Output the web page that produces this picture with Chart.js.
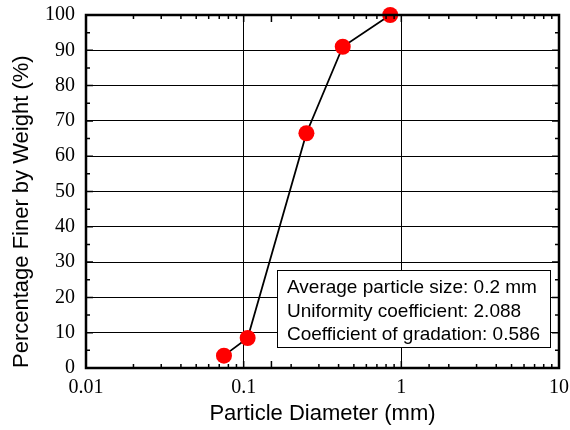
<!DOCTYPE html>
<html><head><meta charset="utf-8">
<script src="https://cdn.jsdelivr.net/npm/chart.js@4/dist/chart.umd.min.js"></script>
<style>html,body{margin:0;padding:0;background:#fff}#wrap{width:570px;height:430px}</style>
</head><body><div id="wrap"><canvas id="c" width="570" height="430"></canvas></div>
<script>
const diameters = [0.075, 0.106, 0.25, 0.425, 0.85];
const percentFiner = [3.5, 8.5, 66.5, 91.0, 100];
const xTickLabels = [0.01, 0.1, 1, 10];
const yTickStep = 10;
const noteLines = ["Average particle size: 0.2 mm", "Uniformity coefficient: 2.088", "Coefficient of gradation: 0.586"];
const xTitle = "Particle Diameter (mm)";
const yTitle = "Percentage Finer by Weight (%)";

const serif = "'Liberation Serif', 'Times New Roman', serif";
const sans = "'Liberation Sans', Arial, sans-serif";

const framePlugin = {
  id: 'frame',
  afterDraw(chart) {
    const {ctx, chartArea: a, scales} = chart;
    ctx.save();
    ctx.strokeStyle = '#000';
    ctx.lineWidth = 1.5;
    scales.x.ticks.forEach(t => {
      const v = t.value;
      const exp = Math.floor(Math.log10(v) + 1e-9);
      const sig = Math.round(v / Math.pow(10, exp));
      const px = scales.x.getPixelForValue(v);
      if (px < a.left + 1 || px > a.right - 1) return;
      const len = sig === 1 ? 7 : 4;
      ctx.beginPath();
      ctx.moveTo(px, a.bottom); ctx.lineTo(px, a.bottom - len);
      ctx.moveTo(px, a.top); ctx.lineTo(px, a.top + len);
      ctx.stroke();
    });
    for (let v = 5; v < 100; v += 5) {
      const py = scales.y.getPixelForValue(v);
      const len = v % 10 === 0 ? 7 : 4;
      ctx.beginPath();
      ctx.moveTo(a.left, py); ctx.lineTo(a.left + len, py);
      ctx.moveTo(a.right, py); ctx.lineTo(a.right - len, py);
      ctx.stroke();
    }
    ctx.lineWidth = 2.5;
    ctx.strokeRect(a.left, a.top, a.right - a.left, a.bottom - a.top);
    const bw = 273, bh = 77;
    const bx = a.right - 9 - bw, by = a.bottom - 21 - bh;
    ctx.fillStyle = '#fff';
    ctx.fillRect(bx, by, bw, bh);
    ctx.lineWidth = 1;
    ctx.strokeRect(bx + 0.5, by + 0.5, bw, bh);
    ctx.fillStyle = '#000';
    ctx.font = "19px " + sans;
    ctx.textBaseline = 'middle';
    noteLines.forEach((s, i) => ctx.fillText(s, bx + 10, by + 18 + i * 23.5));
    ctx.restore();
  }
};

new Chart(document.getElementById('c'), {
  type: 'scatter',
  data: {
    datasets: [{
      data: diameters.map((d, i) => ({x: d, y: percentFiner[i]})),
      showLine: true,
      borderColor: '#000',
      borderWidth: 1.8,
      pointRadius: 8,
      pointHoverRadius: 8,
      pointBackgroundColor: '#ff0000',
      pointBorderColor: '#ff0000',
      pointBorderWidth: 0,
      clip: false
    }]
  },
  options: {
    responsive: false,
    animation: false,
    events: [],
    layout: {padding: {left: 0, right: 11, top: 15, bottom: 0}},
    plugins: {legend: {display: false}, tooltip: {enabled: false}},
    scales: {
      x: {
        type: 'logarithmic', min: 0.01, max: 10,
        afterFit(s) { s.height = 62; s.paddingLeft = 0; s.paddingRight = 0; },
        grid: {
          drawTicks: false,
          color: ctx => {
            const v = ctx.tick && ctx.tick.value;
            if (v === undefined) return 'rgba(0,0,0,0)';
            const l = Math.log10(v);
            return Math.abs(l - Math.round(l)) < 1e-6 ? '#000' : 'rgba(0,0,0,0)';
          },
          lineWidth: 1
        },
        border: {display: false},
        ticks: {
          autoSkip: false, maxRotation: 0, padding: 8, color: '#000',
          font: {family: serif, size: 20},
          callback: v => xTickLabels.some(t => Math.abs(t - v) < 1e-9) ? String(v) : ''
        },
        title: {display: true, text: xTitle, color: '#000', font: {family: sans, size: 22}, padding: {top: 0, bottom: 3}}
      },
      y: {
        min: 0, max: 100,
        afterFit(s) { s.width = 86; s.paddingTop = 0; s.paddingBottom = 0; },
        grid: {drawTicks: false, color: '#000', lineWidth: 1},
        border: {display: false},
        ticks: {stepSize: yTickStep, padding: 11, color: '#000', font: {family: serif, size: 20}},
        title: {display: true, align: 'start', text: yTitle, color: '#000', font: {family: sans, size: 22}, padding: {top: 9, bottom: 0}}
      }
    }
  },
  plugins: [framePlugin]
});
</script>
</body></html>
